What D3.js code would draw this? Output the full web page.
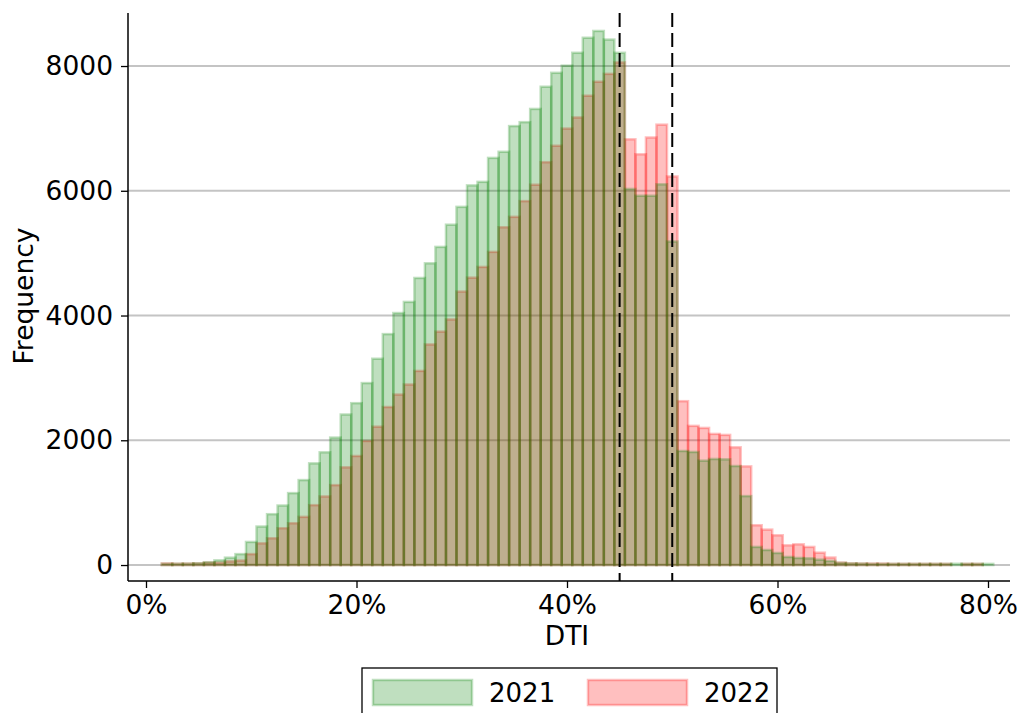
<!DOCTYPE html>
<html>
<head>
<meta charset="utf-8">
<script src="https://cdn.jsdelivr.net/npm/d3@7"></script>
<style>
  body { margin: 0; background: #fff; }
  svg { display: block; font-family: "DejaVu Sans", sans-serif; }
</style>
</head>
<body>
<script>
// DTI bin centres (%), 1-point wide bins
const bins = [2,3,4,5,6,7,8,9,10,11,12,13,14,15,16,17,18,19,20,21,22,23,24,25,26,27,28,29,30,
  31,32,33,34,35,36,37,38,39,40,41,42,43,44,45,46,47,48,49,50,51,52,53,54,55,56,57,58,59,60,
  61,62,63,64,65,66,67,68,69,70,71,72,73,74,75,76,77,78,79,80];

const freq2021 = [20,20,22,28,45,75,118,175,370,617,815,954,1153,1362,1630,1807,2043,2413,2595,2917,
  3307,3702,4040,4218,4602,4837,5100,5456,5742,6086,6143,6527,6625,7037,7100,7312,7668,7891,8006,8212,
  8453,8562,8424,8212,6029,5920,5920,6103,5186,1828,1812,1673,1700,1694,1587,1105,290,241,193,129,
  113,107,86,65,35,25,22,18,18,18,18,18,18,18,18,20,18,18,18];

const freq2022 = [25,20,22,25,38,38,58,72,175,348,429,590,670,772,960,1099,1281,1566,1748,1989,
  2218,2533,2733,2894,3112,3536,3742,3937,4384,4607,4779,5020,5415,5582,5834,6097,6458,6722,6997,7175,
  7524,7748,7874,8057,6825,6585,6854,7060,6229,2627,2231,2198,2102,2086,1887,1582,638,568,477,316,
  332,290,198,120,38,25,22,22,22,18,18,18,18,18,18,0,18,18,0];

const yTicks = [0, 2000, 4000, 6000, 8000];
const xTicks = [0, 20, 40, 60, 80];
const cutoffs = [45, 50];
const years = ["2021", "2022"];

const W = 1020, H = 713;
const FS = 26.5;
const svg = d3.select("body").append("svg").attr("width", W).attr("height", H);

const x = d3.scaleLinear().domain([-1.71, 82.09]).range([128, 1010]);
const y = d3.scaleLinear().domain([-256, 8850]).range([581, 13]);

// grid
svg.append("g").selectAll("line").data(yTicks).enter().append("line")
  .attr("x1", 128).attr("x2", 1010)
  .attr("y1", d => y(d)).attr("y2", d => y(d))
  .attr("stroke", "#c4c4c4").attr("stroke-width", 2);

function drawBars(values, color) {
  svg.append("g").selectAll("rect")
    .data(bins.map((b, i) => ({b, v: values[i]})).filter(d => d.v > 0))
    .enter().append("rect")
    .attr("x", d => x(d.b - 0.5))
    .attr("width", d => x(d.b + 0.5) - x(d.b - 0.5))
    .attr("y", d => y(d.v))
    .attr("height", d => y(0) - y(d.v))
    .attr("fill", color).attr("fill-opacity", 0.25)
    .attr("stroke", color).attr("stroke-opacity", 0.25)
    .attr("stroke-width", 2.5);
}
drawBars(freq2022, "red");
drawBars(freq2021, "green");

// cut-off lines
svg.append("g").selectAll("line").data(cutoffs).enter().append("line")
  .attr("x1", d => x(d)).attr("x2", d => x(d))
  .attr("y1", 13).attr("y2", 581)
  .attr("stroke", "#000").attr("stroke-width", 2)
  .attr("stroke-dasharray", "14,6");

// axes
const yAxis = svg.append("g").attr("transform", "translate(128,0)")
  .call(d3.axisLeft(y).tickValues(yTicks).tickSize(7).tickPadding(8).tickFormat(d3.format("d")));
const xAxis = svg.append("g").attr("transform", "translate(0,581)")
  .call(d3.axisBottom(x).tickValues(xTicks).tickSize(7).tickPadding(7).tickFormat(d => d + "%"));
[yAxis, xAxis].forEach(a => {
  a.select(".domain").attr("stroke-width", 1.5);
  a.selectAll(".tick line").attr("stroke-width", 1.3);
  a.selectAll("text").attr("font-size", FS).attr("fill", "#000")
    .attr("font-family", "DejaVu Sans");
});
// only left & bottom spines, trimmed to the axes area
yAxis.select(".domain").attr("d", "M0,13V581");
xAxis.select(".domain").attr("d", "M128,0H1010");

svg.append("text").attr("x", x(40)).attr("y", 645)
  .attr("text-anchor", "middle").attr("font-size", FS).text("DTI");
svg.append("text").attr("transform", "translate(33,296) rotate(-90)")
  .attr("text-anchor", "middle").attr("font-size", FS).text("Frequency");

// legend
const lg = svg.append("g");
lg.append("rect").attr("x", 362).attr("y", 668).attr("width", 415).attr("height", 60)
  .attr("fill", "#fff").attr("stroke", "#000").attr("stroke-width", 1.3);
const legendColors = ["green", "red"];
const legendX = [373, 588];
years.forEach((yr, i) => {
  lg.append("rect").attr("x", legendX[i]).attr("y", 680).attr("width", 99).attr("height", 25)
    .attr("fill", legendColors[i]).attr("fill-opacity", 0.25)
    .attr("stroke", legendColors[i]).attr("stroke-opacity", 0.25).attr("stroke-width", 2.5);
  lg.append("text").attr("x", legendX[i] + 116).attr("y", 702)
    .attr("font-size", 26).text(yr);
});
</script>
</body>
</html>
